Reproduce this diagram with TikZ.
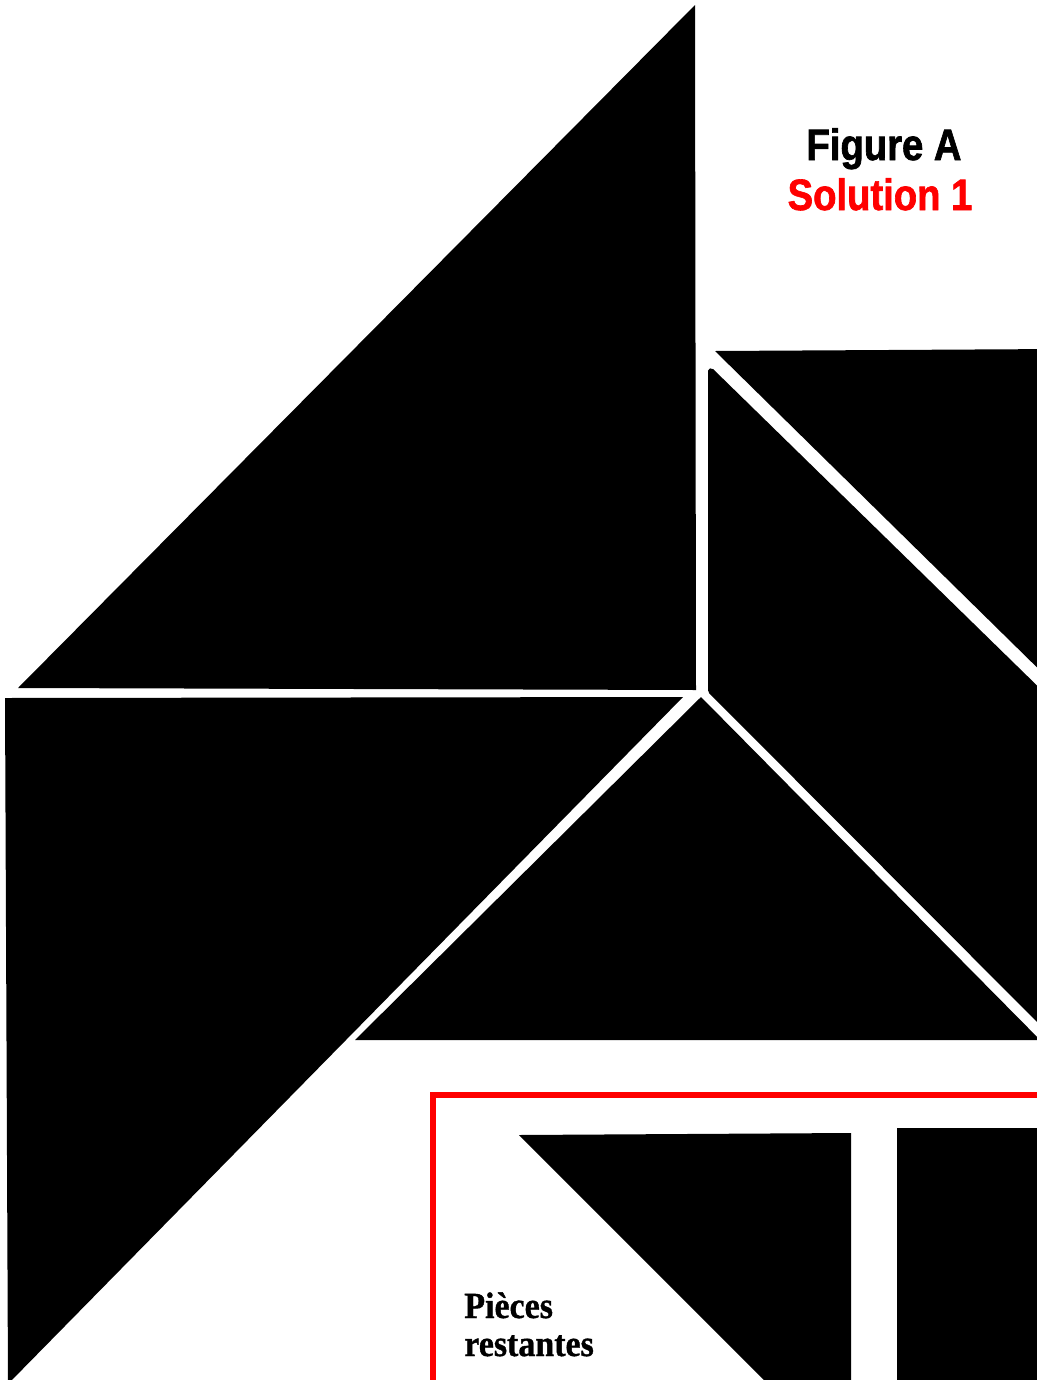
\documentclass[tikz,border=0pt]{standalone}
\usepackage{fontspec}
\usepackage{tikz}
\usetikzlibrary{positioning}
\newfontfamily\titrefont[FakeStretch=0.87,FakeBold=1.5]{Liberation Sans}
\newfontfamily\restefont[FakeStretch=0.92,FakeBold=1]{Liberation Serif}
\definecolor{rouge}{HTML}{FF0000}
\tikzset{
  piece/.style={fill=black, draw=none},
  cadre/.style={draw=rouge, line width=3pt},
  titre/.style={font=\titrefont\bfseries\fontsize{25}{28}\selectfont,
    anchor=base, inner sep=0pt, text=#1},
  titre/.default=black,
  legende/.style={font=\restefont\bfseries\fontsize{21}{23}\selectfont,
    anchor=base west, inner sep=0pt},
}
\begin{document}
\begin{tikzpicture}[x=0.02cm, y=-0.02cm]

\useasboundingbox (0,0) rectangle (1037,1380);
\clip (0,0) rectangle (1037,1380);

% Grand triangle du haut
\fill[piece] (695,5) -- (696,690) -- (18,688) -- cycle;
% Grand triangle du bas
\fill[piece] (5,698) -- (683,697) -- (8,1384) -- cycle;
% Triangle moyen
\fill[piece] (701,697) -- (1050,1050) -- (1050,1040) -- (355,1040) -- cycle;
% Parallelogramme
\fill[piece, rounded corners=1pt] (708,692) -- (708,369) -- (712,368)
  -- (1060,708) -- (1060,1045) -- cycle;
% Petit triangle en haut a droite
\fill[piece] (715,351) -- (1060,349) -- (1060,690) -- cycle;

% Titre
\node[titre] (fig) at (884,160) {Figure A};
\node[titre=rouge] (sol) at (880,210) {Solution 1};

% Pieces restantes
\draw[cadre] (433,1400) -- (433,1095) -- (1060,1095);
\fill[piece] (519,1135) -- (851,1133) -- (851,1400) -- (784,1400) -- cycle;
\fill[piece] (897,1128) rectangle (1060,1400);
\node[legende] (pieces) at (464,1318) {Pièces};
\node[legende] (restantes) at (464,1356) {restantes};

\end{tikzpicture}
\end{document}
